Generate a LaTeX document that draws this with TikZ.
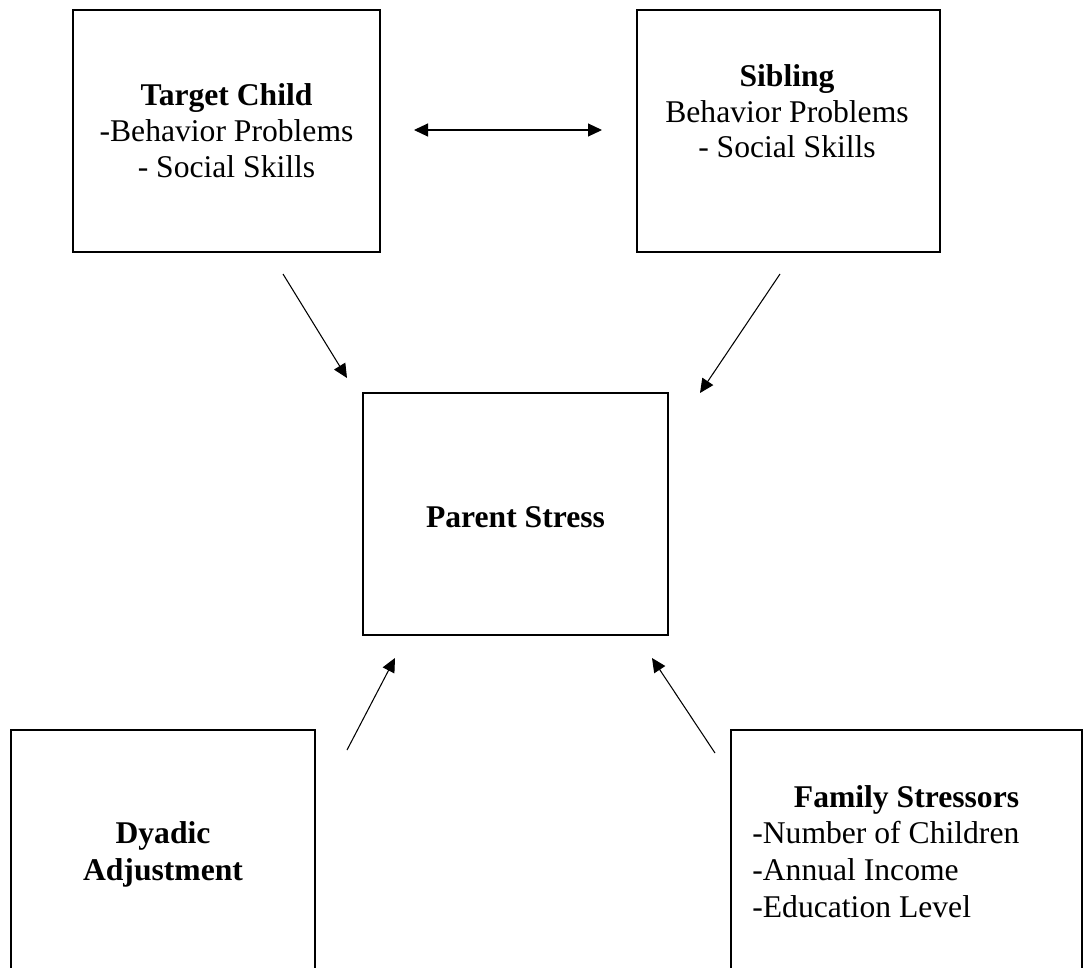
\documentclass[tikz,border=0pt]{standalone}
\usepackage{fontspec}
\setmainfont{Liberation Serif}
\usetikzlibrary{arrows.meta}
\tikzset{
  box/.style={draw, line width=1.5pt, inner sep=0pt},
  txt/.style={inner sep=0pt, anchor=base, font=\fontsize{18}{20.7}\selectfont},
  txtl/.style={txt, anchor=base west},
  hd/.style={txt, font=\fontsize{18}{20.7}\selectfont\bfseries},
  tip/.style={Triangle[length=0.28cm,width=0.26cm]},
  arr/.style={line width=0.6pt, -{Triangle[length=0.28cm,width=0.26cm]}},
  darr/.style={line width=0.6pt, {Triangle[length=0.28cm,width=0.26cm]}-{Triangle[length=0.28cm,width=0.26cm]}}
}
\begin{document}
\begin{tikzpicture}[x=0.02cm,y=-0.02cm]
\clip (0,0) rectangle (1092,967);
\fill[white] (0,0) rectangle (1092,967);
% boxes
\node[box, minimum width=6.14cm, minimum height=4.84cm] (tc) at (226.5,131) {};
\node[box, minimum width=6.06cm, minimum height=4.84cm] (sib) at (788.5,131) {};
\node[box, minimum width=6.10cm, minimum height=4.84cm] (ps) at (515.5,514) {};
\node[box, minimum width=6.08cm, minimum height=5.2cm] (dy) at (163,860) {};
\node[box, minimum width=7.02cm, minimum height=5.2cm] (fam) at (906.5,860) {};
% texts
\node[hd] (tc1) at (226.5,105) {Target Child};
\node[txt] (tc2) at (226.5,141) {-Behavior Problems};
\node[txt] (tc3) at (226.5,177) {- Social Skills};
\node[hd] (sb1) at (787,86) {Sibling};
\node[txt] (sb2) at (787,122) {Behavior Problems};
\node[txt] (sb3) at (787,157) {- Social Skills};
\node[hd] (ps1) at (515.5,527) {Parent Stress};
\node[hd] (dy1) at (163,843) {Dyadic};
\node[hd] (dy2) at (163,880) {Adjustment};
\node[hd] (fm1) at (906.5,807) {Family Stressors};
\node[txtl] (fm2) at (752,843) {-Number of Children};
\node[txtl] (fm3) at (752,880) {-Annual Income};
\node[txtl] (fm4) at (752,917) {-Education Level};
% arrow end points
\coordinate (d1) at (414,130);
\coordinate (d2) at (602,130);
\coordinate (a1s) at (283,274);
\coordinate (a1e) at (347,378);
\coordinate (a2s) at (780,274);
\coordinate (a2e) at (700,393);
\coordinate (a3s) at (347,750);
\coordinate (a3e) at (395,658);
\coordinate (a4s) at (715,753);
\coordinate (a4e) at (652,658);
% connectors
\draw[darr] (d1) -- (d2);
\draw[arr] (a1s) -- (a1e);
\draw[arr] (a2s) -- (a2e);
\draw[arr] (a3s) -- (a3e);
\draw[arr] (a4s) -- (a4e);
\end{tikzpicture}
\end{document}
